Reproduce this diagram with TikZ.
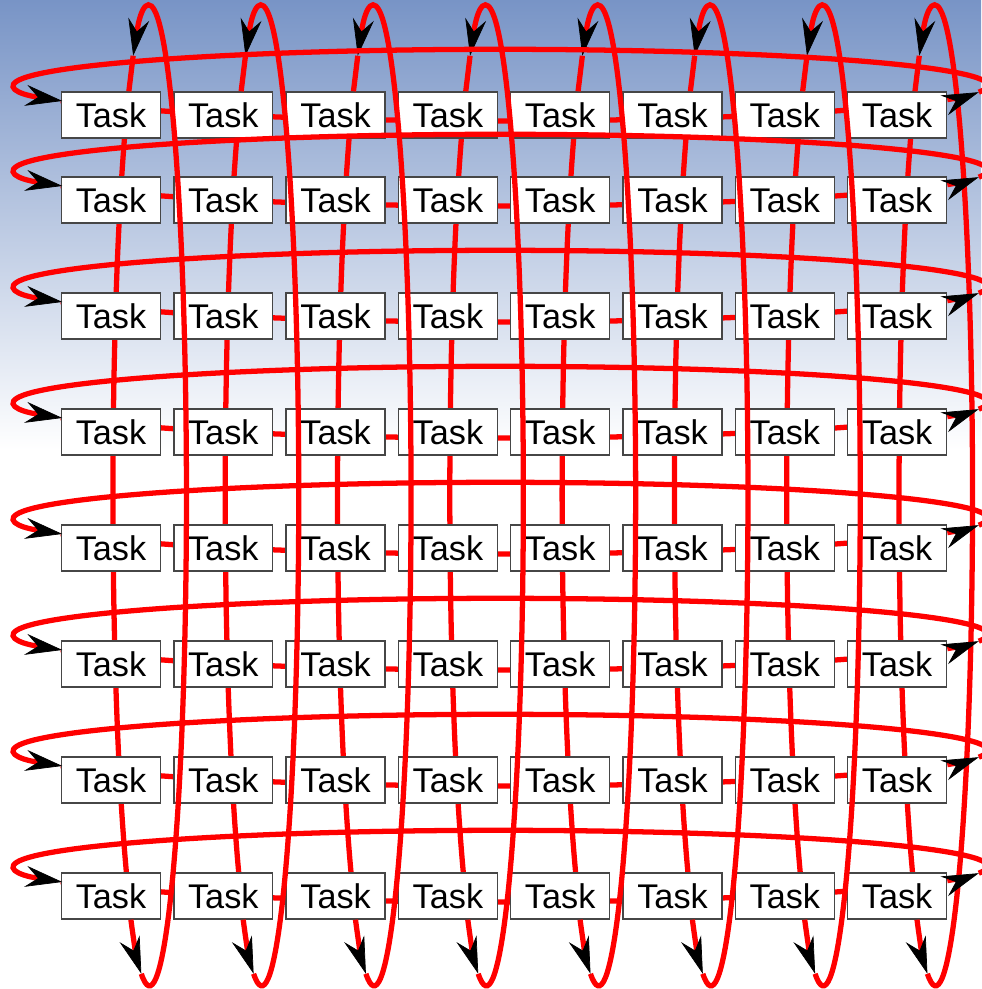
\documentclass[tikz,border=0pt]{standalone}
\usepackage{fontspec}
\setsansfont{Liberation Sans}
\usepackage{tikz}
\usetikzlibrary{arrows.meta,backgrounds}
\definecolor{skyblue}{RGB}{120,148,198}
\definecolor{boxgray}{RGB}{70,70,70}
\definecolor{ringred}{RGB}{255,0,0}

\begin{document}
\begin{tikzpicture}[x=0.02cm,y=-0.02cm,
    task/.style={draw=boxgray,fill=white,line width=0.8pt,minimum width=1.98cm,minimum height=0.92cm,inner sep=0pt,font=\sffamily\fontsize{19.5}{22}\selectfont},
    ring/.style={draw=ringred,line width=3pt},
    arrowed/.style={-{Stealth[length=21pt,width=12pt,inset=7pt,color=black,line width=0.4pt]}}]
  \useasboundingbox (0,0) rectangle (981,989);
  \foreach \r/\y in {1/115,2/200,3/316,4/432,5/548,6/664,7/780,8/896}\foreach \c in {1,...,8}{
    \node[task] (t-\r-\c) at ({111+112.3*(\c-1)},\y) {Task};
  }
  \begin{scope}[on background layer]
    \shade[top color=skyblue,bottom color=white] (0,0) rectangle (981,450);
    \fill[white] (0,450) rectangle (981,989);
    % links through the rows and the columns
    \foreach \r in {1,...,8}{
      \draw[ring] (t-\r-1.164) arc[start angle=154.2,end angle=23.5,x radius=487,y radius=36];
    }
    \foreach \c in {1,...,8}{
      \draw[ring] (t-1-\c.53) arc[start angle=235.3,end angle=120.1,x radius=37,y radius=490];
    }
  \end{scope}
  % wrap-around of every column
  \foreach \c in {1,...,8}{
    \draw[ring,arrowed] (t-8-\c.310) arc[start angle=120.1,end angle=102.7,x radius=37,y radius=490] coordinate (s-\c);
    \draw[ring,arrowed] (s-\c) arc[start angle=102.7,end angle=-116.1,x radius=37,y radius=490] coordinate (n-\c);
    \draw[ring] (n-\c) -- (t-1-\c.53);
  }
  % wrap-around of every row
  \foreach \r in {1,...,8}{
    \draw[ring,arrowed] (t-\r-8.17) arc[start angle=23.5,end angle=11,x radius=487,y radius=36] coordinate (e-\r);
    \draw[ring,arrowed] (e-\r) arc[start angle=11,end angle=-205.8,x radius=487,y radius=36];
  }
\end{tikzpicture}
\end{document}
